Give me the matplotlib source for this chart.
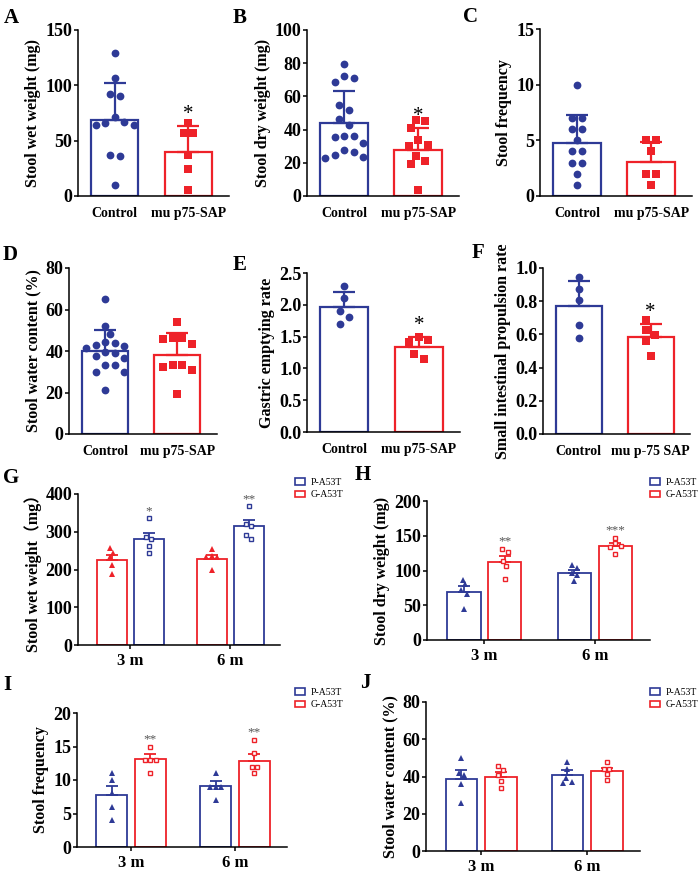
import numpy as np
import matplotlib
matplotlib.use('Agg')
import matplotlib.pyplot as plt
from matplotlib.patches import Patch

plt.rcParams['font.family'] = ['Liberation Serif', 'Noto Sans CJK SC']
plt.rcParams['font.weight'] = 'bold'
plt.rcParams['axes.labelweight'] = 'bold'
plt.rcParams['axes.linewidth'] = 1.1

W, H = 700, 875
BLUE = '#2E3A96'
RED = '#EE2229'
GREY = '#555555'

# ---- A-F: Control vs mu p75-SAP (mean + SD) ----
groups = ['Control', 'mu p75-SAP']
groups_f = ['Control', 'mu p-75 SAP']

a_ctrl = [129, 107, 92, 90, 71, 67, 66, 64, 64, 37, 36, 10]
a_sap = [66, 57, 57, 37, 24, 5]
a_mean = [69, 39.5]
a_sd = [33, 24]

b_ctrl = [79.7, 72.3, 71.1, 68.7, 54.6, 52, 46.6, 43, 36, 36, 35.7, 32, 28, 26.5, 24.5, 23.7, 22.9]
b_sap = [46, 45, 41, 34, 31, 30, 24, 21, 19.5, 3.5]
b_mean = [44, 28]
b_sd = [19.3, 13]

c_ctrl = [10, 7, 7, 6, 6, 5, 4, 4, 3, 3, 2, 1]
c_sap = [5, 5, 4, 2, 2, 1]
c_mean = [4.75, 3.05]
c_sd = [2.55, 1.8]

d_ctrl = [65, 52, 48, 44.1, 43.8, 42.7, 42.4, 41.4, 39.5, 39.1, 37.8, 36.6, 33.3, 33.3, 29.8, 29.8, 21]
d_sap = [53.8, 46.5, 46.5, 45.7, 43.5, 33.3, 33.3, 32.5, 30.9, 19.3]
d_mean = [39.8, 38.2]
d_sd = [10.1, 10.6]

e_ctrl = [2.29, 2.10, 1.91, 1.81, 1.70]
e_sap = [1.49, 1.45, 1.42, 1.22, 1.15]
e_mean = [1.96, 1.34]
e_sd = [0.24, 0.16]

f_ctrl = [0.946, 0.875, 0.805, 0.656, 0.581]
f_sap = [0.684, 0.628, 0.596, 0.559, 0.471]
f_mean = [0.769, 0.583]
f_sd = [0.155, 0.081]

# ---- G-J: 3 m / 6 m (mean + SEM), bar 1 = triangles, bar 2 = squares ----
months = ['3 m', '6 m']
legend_names = ['P-A53T', 'G-A53T']

g_pts1 = [[257, 245, 232, 212, 187], [253, 236, 234, 232, 200]]
g_mean1 = [224, 228.7]
g_sem1 = [13.5, 9.7]
g_pts2 = [[336, 285, 280, 262, 245], [368, 320, 315, 291, 280]]
g_mean2 = [280, 315]
g_sem2 = [17.6, 17]
g_stars = ['*', '**']

h_pts1 = [[87, 80, 72, 66, 45], [108, 104, 97, 93, 85]]
h_mean1 = [69.4, 95.7]
h_sem1 = [8.6, 5.7]
h_pts2 = [[131, 127, 113, 106, 88], [147, 139, 135, 134, 124]]
h_mean2 = [112.4, 135.4]
h_sem2 = [8.2, 4.3]
h_stars = ['**', '***']

i_pts1 = [[11, 10, 8, 6, 4], [11, 9, 9, 9, 7]]
i_mean1 = [7.7, 9.1]
i_sem1 = [1.4, 0.8]
i_pts2 = [[15, 13, 13, 13, 11], [16, 14, 12, 12, 11]]
i_mean2 = [13.1, 12.9]
i_sem2 = [0.75, 1.0]
i_stars = ['**', '**']

j_pts1 = [[50, 42, 41, 36, 26], [48, 44, 39, 37, 36.5]]
j_mean1 = [38.8, 40.6]
j_sem1 = [4.5, 2.7]
j_pts2 = [[45.4, 43.3, 40.6, 37.6, 33.8], [48, 44, 44, 41.5, 38]]
j_mean2 = [39.7, 42.8]
j_sem2 = [2.5, 1.9]
j_stars = ['', '']

fig = plt.figure(figsize=(W / 100, H / 100), dpi=100)


def rect(l, r, t, b):
    return [l / W, 1 - b / H, (r - l) / W, (b - t) / H]


def swarm_x(ax, x0, vals, d):
    # simple beeswarm in pixel space, rows centred on the bar
    pos = ax.get_position()
    sx = pos.width * W / np.diff(ax.get_xlim())[0]
    sy = pos.height * H / np.diff(ax.get_ylim())[0]
    y = np.asarray(vals, float) * sy
    order = np.argsort(-y)
    off = np.zeros(len(y))
    done = []
    steps = [0] + [s * k * d / 2 for k in range(1, 40) for s in (1, -1)]
    for i in order:
        for o in steps:
            if all((o - off[j]) ** 2 + (y[i] - y[j]) ** 2 >= (0.92 * d) ** 2 for j in done):
                off[i] = o
                break
        done.append(i)
    clusters = [[order[0]]]
    for k in range(1, len(order)):
        if y[order[k - 1]] - y[order[k]] < d:
            clusters[-1].append(order[k])
        else:
            clusters.append([order[k]])
    for c in clusters:
        off[c] -= (off[c].max() + off[c].min()) / 2
    return x0 + off / sx


def style_axes(ax, yticks):
    ax.spines['top'].set_visible(False)
    ax.spines['right'].set_visible(False)
    ax.set_yticks(yticks)
    ax.tick_params(axis='y', length=3, width=1.1, pad=1, labelsize=13)


def top_panel(r, ctrl, sap, mean, sd, ylim, yticks, ylabel, xlabels, star):
    ax = fig.add_axes(rect(*r))
    ax.set_xlim(-0.5, 1.55)
    ax.set_ylim(*ylim)
    cols = [BLUE, RED]
    ax.bar([0, 1], mean, width=0.64, facecolor='white', edgecolor=cols, linewidth=1.6, zorder=1)
    for i in range(2):
        ax.errorbar(i, mean[i], yerr=[[0], [sd[i]]], fmt='none', ecolor=cols[i],
                    elinewidth=1.6, capsize=8, capthick=1.6, zorder=2)
    ax.plot(swarm_x(ax, 0, ctrl, 9.5), ctrl, 'o', color=BLUE, ms=5.6, mew=0, zorder=3, clip_on=False)
    ax.plot(swarm_x(ax, 1, sap, 9.5), sap, 's', color=RED, ms=5.2, mew=0, zorder=3, clip_on=False)
    if star:
        ax.annotate(star, (1, mean[1] + sd[1]), xytext=(0, 5), textcoords='offset points',
                    ha='center', va='baseline', fontsize=15, fontweight='normal')
    style_axes(ax, yticks)
    ax.set_xticks([0, 1])
    ax.set_xticklabels(xlabels)
    ax.tick_params(axis='x', length=0, pad=8, labelsize=10)
    ax.set_ylabel(ylabel, fontsize=11.5, labelpad=3)
    return ax


def bottom_panel(r, pts1, mean1, sem1, c1, pts2, mean2, sem2, c2, ylim, yticks, ylabel, stars, leg):
    ax = fig.add_axes(rect(*r))
    ax.set_xlim(-0.52, 1.5)
    ax.set_ylim(*ylim)
    xg = np.arange(len(months))
    sets = [(pts1, mean1, sem1, c1, -0.185, '^', True), (pts2, mean2, sem2, c2, 0.185, 's', False)]
    for pts, mean, sem, c, sh, mk, filled in sets:
        ax.bar(xg + sh, mean, width=0.3, facecolor='white', edgecolor=c, linewidth=1.3, zorder=1)
        ax.errorbar(xg + sh, mean, yerr=[np.zeros(len(mean)), sem], fmt='none', ecolor=c,
                    elinewidth=1.3, capsize=4.5, capthick=1.3, zorder=2)
        for g in range(len(months)):
            xs = swarm_x(ax, xg[g] + sh, pts[g], 5.5)
            ax.plot(xs, pts[g], mk, ms=3.8 if filled else 3.4, mfc=c if filled else 'white',
                    mec=c, mew=0 if filled else 1.0, zorder=3)
    for g in range(len(months)):
        if stars[g]:
            ax.annotate(stars[g], (xg[g] + 0.185, max(pts2[g])), xytext=(0, 3),
                        textcoords='offset points', ha='center', va='baseline',
                        fontsize=9.5, fontweight='normal', color=GREY)
    style_axes(ax, yticks)
    ax.set_xticks(xg)
    ax.set_xticklabels(months)
    ax.tick_params(axis='x', length=3, width=1.1, pad=3, labelsize=12)
    ax.set_ylabel(ylabel, fontsize=11.5, labelpad=3)
    handles = [Patch(facecolor='white', edgecolor=BLUE, linewidth=1.2),
               Patch(facecolor='white', edgecolor=RED, linewidth=1.2)]
    fig.legend(handles, legend_names, loc='upper left',
               bbox_to_anchor=(leg[0] / W, 1 - leg[1] / H), frameon=False,
               prop={'size': 7, 'weight': 'normal'}, handlelength=1.0, handleheight=0.6,
               handletextpad=0.6, labelspacing=0.35, borderpad=0, borderaxespad=0)
    return ax


top_panel((78, 229, 30, 196), a_ctrl, a_sap, a_mean, a_sd, (0, 150), [0, 50, 100, 150],
          'Stool wet weight (mg)', groups, '*')
top_panel((307, 459, 30, 196), b_ctrl, b_sap, b_mean, b_sd, (0, 100), [0, 20, 40, 60, 80, 100],
          'Stool dry weight (mg)', groups, '*')
top_panel((540, 692, 29, 196), c_ctrl, c_sap, c_mean, c_sd, (0, 15), [0, 5, 10, 15],
          'Stool frequency', groups, '')
top_panel((69, 217, 268, 434), d_ctrl, d_sap, d_mean, d_sd, (0, 80), [0, 20, 40, 60, 80],
          'Stool water content (%)', groups, '')
ax_e = top_panel((307, 460, 273, 432), e_ctrl, e_sap, e_mean, e_sd, (0, 2.5),
                 [0, 0.5, 1.0, 1.5, 2.0, 2.5], 'Gastric emptying rate', groups, '*')
ax_e.set_yticklabels(['0.0', '0.5', '1.0', '1.5', '2.0', '2.5'])
ax_f = top_panel((543, 690, 268, 434), f_ctrl, f_sap, f_mean, f_sd, (0, 1.0),
                 [0, 0.2, 0.4, 0.6, 0.8, 1.0], 'Small intestinal propulsion rate', groups_f, '*')
ax_f.set_yticklabels(['0.0', '0.2', '0.4', '0.6', '0.8', '1.0'])

bottom_panel((78, 280, 494, 645), g_pts1, g_mean1, g_sem1, RED, g_pts2, g_mean2, g_sem2, BLUE,
             (0, 400), [0, 100, 200, 300, 400], 'Stool wet weight\uff08mg\uff09', g_stars, (295, 478))
bottom_panel((427, 650, 501, 640), h_pts1, h_mean1, h_sem1, BLUE, h_pts2, h_mean2, h_sem2, RED,
             (0, 200), [0, 50, 100, 150, 200], 'Stool dry weight (mg)', h_stars, (650, 478))
bottom_panel((77, 287, 713, 847), i_pts1, i_mean1, i_sem1, BLUE, i_pts2, i_mean2, i_sem2, RED,
             (0, 20), [0, 5, 10, 15, 20], 'Stool frequency', i_stars, (295, 688))
bottom_panel((426, 640, 702, 851), j_pts1, j_mean1, j_sem1, BLUE, j_pts2, j_mean2, j_sem2, RED,
             (0, 80), [0, 20, 40, 60, 80], 'Stool water content (%)', j_stars, (650, 688))

for lab, x, y in [('A', 4, 8), ('B', 233, 8), ('C', 463, 7), ('D', 3, 245), ('E', 233, 255),
                  ('F', 472, 243), ('G', 3, 468), ('H', 355, 465), ('I', 3, 675), ('J', 360, 673)]:
    fig.text(x / W, 1 - y / H, lab, fontsize=15, fontweight='bold', va='top', ha='left')

fig.savefig('out.png', dpi=100)
